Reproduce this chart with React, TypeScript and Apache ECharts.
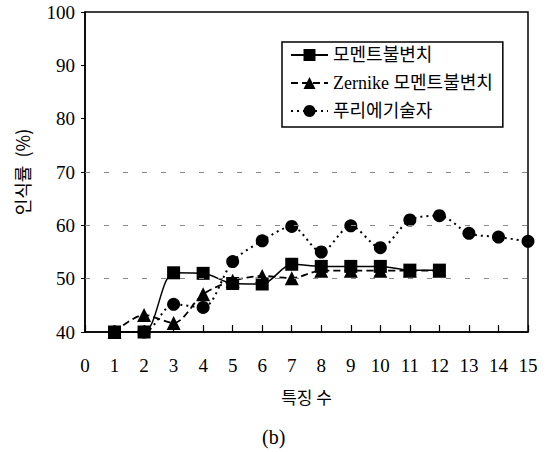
import React, { useEffect, useRef } from "react";
import * as echarts from "echarts";

const xValues = [1, 2, 3, 4, 5, 6, 7, 8, 9, 10, 11, 12, 13, 14, 15];
const momentInvariant = [40, 40, 51.1, 51, 49.1, 49, 52.7, 52.3, 52.3, 52.3, 51.6, 51.6];
const zernikeInvariant = [40, 43.2, 41.7, 47.1, 49.6, 50.5, 50.1, 51.5, 51.5, 51.5, 51.5, 51.5];
const fourierDescriptor = [40, 40, 45.2, 44.6, 53.2, 57.1, 59.8, 55, 59.9, 55.8, 61, 61.8, 58.5, 57.8, 57];
const seriesNames = ["모멘트불변치", "Zernike 모멘트불변치", "푸리에기술자"];
const gridValues = [50, 60, 70];

const pairs = (vals: number[]) => vals.map((v, i) => [xValues[i], v]);

export default function App() {
  const ref = useRef<HTMLDivElement>(null);
  useEffect(() => {
    if (!ref.current) return;
    const chart = echarts.init(ref.current, null, { renderer: "svg" });
    const serif = "'Liberation Serif', 'DejaVu Serif', serif";
    const mixed = "'Liberation Serif', 'Noto Sans CJK KR', serif";
    const kr = "'Noto Sans CJK KR', sans-serif";
    chart.setOption({
      animation: false,
      backgroundColor: "#fff",
      grid: {
        left: 85,
        right: 21,
        top: 12,
        bottom: 120,
        show: true,
        borderColor: "#000",
        borderWidth: 1.5,
      },
      legend: {
        orient: "vertical",
        left: 282,
        top: 42,
        backgroundColor: "#fff",
        borderColor: "#000",
        borderWidth: 1.5,
        padding: [4, 10, 7, 8],
        itemGap: 10,
        itemWidth: 37,
        itemHeight: 15,
        textStyle: { fontFamily: mixed, fontSize: 18, lineHeight: 17, color: "#000" },
        data: seriesNames,
      },
      xAxis: {
        type: "value",
        min: 0,
        max: 15,
        interval: 1,
        name: "특징 수",
        nameLocation: "middle",
        nameGap: 56,
        nameTextStyle: { fontFamily: kr, fontSize: 17, color: "#000" },
        axisLine: { lineStyle: { color: "#000", width: 1.5 } },
        axisTick: { inside: true, length: 7, lineStyle: { color: "#000", width: 1.2 } },
        axisLabel: { fontFamily: serif, fontSize: 19, color: "#000", margin: 24 },
        splitLine: { show: false },
      },
      yAxis: {
        type: "value",
        min: 40,
        max: 100,
        interval: 10,
        name: "인식률  (%)",
        nameLocation: "middle",
        nameGap: 54,
        nameRotate: 90,
        nameTextStyle: { fontFamily: kr, fontSize: 18, color: "#000" },
        axisLine: { show: true, lineStyle: { color: "#000", width: 1.5 } },
        axisTick: { show: true, length: 4, lineStyle: { color: "#000" } },
        axisLabel: { fontFamily: serif, fontSize: 19, color: "#000", margin: 10 },
        splitLine: { show: false },
      },
      graphic: [
        {
          type: "text",
          left: 262,
          top: 427,
          style: { text: "(b)", fontFamily: serif, fontSize: 20, fill: "#000" },
        },
      ],
      series: [
        {
          name: seriesNames[0],
          type: "line",
          smooth: 0.3,
          data: pairs(momentInvariant),
          symbol: "rect",
          symbolSize: 13,
          itemStyle: { color: "#000" },
          lineStyle: { color: "#000", width: 1.5, type: "solid" },
          z: 4,
          markLine: {
            silent: true,
            symbol: "none",
            label: { show: false },
            lineStyle: { color: "#888", width: 1, type: [5, 14] },
            data: gridValues.map((v) => ({ yAxis: v })),
          },
        },
        {
          name: seriesNames[1],
          type: "line",
          smooth: 0.3,
          data: pairs(zernikeInvariant),
          symbol: "triangle",
          symbolSize: 14,
          itemStyle: { color: "#000" },
          lineStyle: { color: "#000", width: 1.8, type: [7, 4] },
          z: 3,
        },
        {
          name: seriesNames[2],
          type: "line",
          smooth: 0.3,
          data: pairs(fourierDescriptor),
          symbol: "circle",
          symbolSize: 13,
          itemStyle: { color: "#000" },
          lineStyle: { color: "#000", width: 2, type: [2, 4] },
          z: 2,
        },
      ],
    });
    return () => chart.dispose();
  }, []);
  return <div ref={ref} style={{ width: 549, height: 452, position: "absolute", left: 0, top: 0 }} />;
}
